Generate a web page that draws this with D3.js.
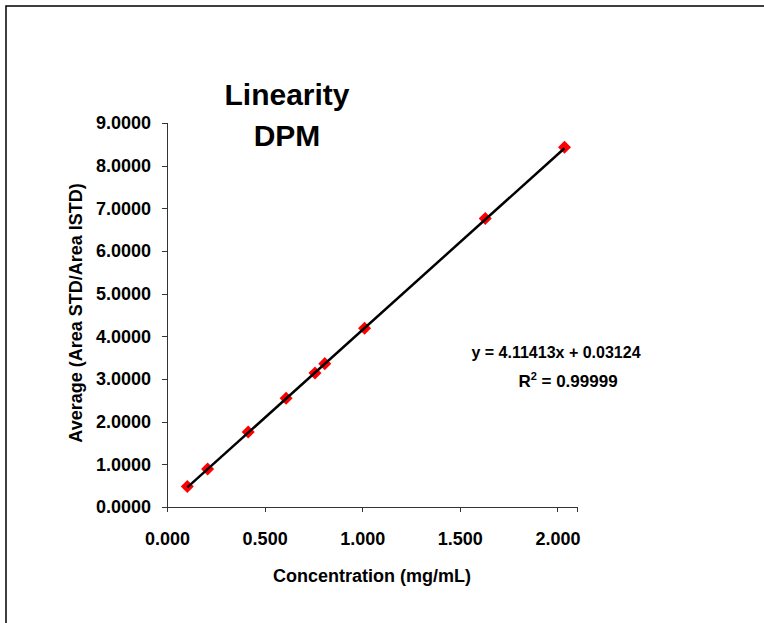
<!DOCTYPE html>
<html>
  <head>
    <meta charset="utf-8">
    <title>Linearity DPM</title>
    <script type="text/javascript" src="https://cdn.jsdelivr.net/npm/d3@7"></script>
    <style>
    body {
      margin: 0;
      background: #fff;
    }
    text {
      font-family: Arial, "Liberation Sans", sans-serif;
      font-weight: bold;
      fill: #000;
    }
    .axis path, .axis line {
      stroke: #333;
      stroke-width: 1;
      shape-rendering: crispEdges;
    }
    .axis text {
      font-size: 18px;
    }
    .trend {
      fill: none;
      stroke: #000;
      stroke-width: 2.5px;
    }
    </style>
  </head>
  <body>
    <div id="chart"></div>
    <script type="text/javascript">

      // data
      var conc = [0.104, 0.208, 0.416, 0.610, 0.758, 0.808, 1.012, 1.630, 2.036];
      var avg = [0.48, 0.89, 1.76, 2.55, 3.14, 3.36, 4.19, 6.76, 8.43];
      var xTicks = [0, 0.5, 1.0, 1.5, 2.0];
      var yTicks = [0, 1, 2, 3, 4, 5, 6, 7, 8, 9];
      var slope = 4.11413;
      var intercept = 0.03124;
      var r2 = '0.99999';

      var width = 764, height = 623;

      var svg = d3.select('#chart').append('svg')
        .attr('width', width)
        .attr('height', height);

      // frame (only top and left edges are in the picture)
      svg.append('path')
        .attr('d', 'M6,623V6H764')
        .attr('fill', 'none')
        .attr('stroke', '#000')
        .attr('stroke-width', 1.5);

      var x = d3.scaleLinear().domain([0, 2.1]).range([167, 577]);
      var y = d3.scaleLinear().domain([0, 9]).range([507, 123]);

      svg.append('g')
        .attr('class', 'axis')
        .attr('transform', 'translate(0,507)')
        .call(d3.axisBottom(x).tickValues(xTicks).tickFormat(d3.format('.3f'))
          .tickSizeOuter(0).tickSize(5).tickPadding(20));

      svg.append('g')
        .attr('class', 'axis')
        .attr('transform', 'translate(167,0)')
        .call(d3.axisLeft(y).tickValues(yTicks).tickFormat(d3.format('.4f'))
          .tickSizeOuter(0).tickSize(5).tickPadding(11));

      // markers
      var pts = conc.map(function(c, i) { return {x: c, y: avg[i]}; });
      svg.selectAll('.pt')
        .data(pts)
        .enter()
        .append('path')
        .attr('class', 'pt')
        .attr('d', d3.symbol().type(d3.symbolSquare).size(85))
        .attr('fill', '#ff0000')
        .attr('transform', function(d) {
          return 'translate(' + x(d.x) + ',' + y(d.y) + ') rotate(45)';
        });

      // linear trendline over the data range
      var ext = d3.extent(conc);
      var line = d3.line()
        .x(function(d) { return x(d); })
        .y(function(d) { return y(slope * d + intercept); });
      svg.append('path')
        .datum(ext)
        .attr('class', 'trend')
        .attr('d', line);

      // titles
      svg.append('text')
        .attr('x', 287).attr('y', 105)
        .attr('text-anchor', 'middle')
        .style('font-size', '30px')
        .text('Linearity');
      svg.append('text')
        .attr('x', 287).attr('y', 146)
        .attr('text-anchor', 'middle')
        .style('font-size', '30px')
        .text('DPM');

      svg.append('text')
        .attr('x', 372).attr('y', 582)
        .attr('text-anchor', 'middle')
        .style('font-size', '18px')
        .text('Concentration (mg/mL)');

      svg.append('text')
        .attr('transform', 'translate(82,313) rotate(-90)')
        .attr('text-anchor', 'middle')
        .style('font-size', '18px')
        .text('Average (Area STD/Area ISTD)');

      // equation label
      svg.append('text')
        .attr('x', 556).attr('y', 358)
        .attr('text-anchor', 'middle')
        .style('font-size', '16px')
        .text('y = ' + slope + 'x + ' + intercept.toFixed(5));

      var rt = svg.append('text')
        .attr('x', 568).attr('y', 387)
        .attr('text-anchor', 'middle')
        .style('font-size', '17px');
      rt.append('tspan').text('R');
      rt.append('tspan').attr('dy', -7).style('font-size', '11px').text('2');
      rt.append('tspan').attr('dy', 7).text(' = ' + r2);
    </script>
  </body>
</html>
